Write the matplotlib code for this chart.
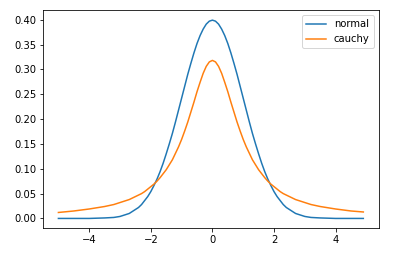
import matplotlib
matplotlib.use("Agg")
import matplotlib.pyplot as plt

# values (denser sampling where the curves bend)
x_vals = [-5.0, -4.5, -4.0, -3.5, -3.2,
          -3.0, -2.9, -2.8, -2.7, -2.6, -2.5, -2.4, -2.3, -2.2, -2.1,
          -2.0, -1.9, -1.8, -1.7, -1.6, -1.5, -1.4, -1.3, -1.2, -1.1,
          -1.0, -0.9, -0.8, -0.7, -0.6, -0.5, -0.4, -0.3, -0.2, -0.1,
          0.0,
          0.1, 0.2, 0.3, 0.4, 0.5, 0.6, 0.7, 0.8, 0.9, 1.0,
          1.1, 1.2, 1.3, 1.4, 1.5, 1.6, 1.7, 1.8, 1.9, 2.0,
          2.1, 2.2, 2.3, 2.4, 2.5, 2.6, 2.7, 2.8, 2.9, 3.0,
          3.2, 3.5, 4.0, 4.5, 4.9]

normal_vals = [0.000, 0.000, 0.000, 0.001, 0.002,
               0.004, 0.006, 0.008, 0.010, 0.014, 0.018, 0.022, 0.028, 0.036, 0.044,
               0.054, 0.066, 0.079, 0.094, 0.111, 0.130, 0.150, 0.171, 0.194, 0.218,
               0.242, 0.266, 0.290, 0.312, 0.333, 0.352, 0.368, 0.381, 0.391, 0.397,
               0.399,
               0.397, 0.391, 0.381, 0.368, 0.352, 0.333, 0.312, 0.290, 0.266, 0.242,
               0.218, 0.194, 0.171, 0.150, 0.130, 0.111, 0.094, 0.079, 0.066, 0.054,
               0.044, 0.036, 0.028, 0.022, 0.018, 0.014, 0.010, 0.008, 0.006, 0.004,
               0.002, 0.001, 0.000, 0.000, 0.000]

cauchy_vals = [0.012, 0.015, 0.019, 0.024, 0.028,
               0.032, 0.034, 0.036, 0.038, 0.041, 0.044, 0.047, 0.050, 0.054, 0.059,
               0.064, 0.069, 0.075, 0.082, 0.090, 0.098, 0.108, 0.118, 0.131, 0.144,
               0.159, 0.176, 0.194, 0.214, 0.234, 0.255, 0.274, 0.292, 0.306, 0.315,
               0.318,
               0.315, 0.306, 0.292, 0.274, 0.255, 0.234, 0.214, 0.194, 0.176, 0.159,
               0.144, 0.131, 0.118, 0.108, 0.098, 0.090, 0.082, 0.075, 0.069, 0.064,
               0.059, 0.054, 0.050, 0.047, 0.044, 0.041, 0.038, 0.036, 0.034, 0.032,
               0.028, 0.024, 0.019, 0.015, 0.013]

fig = plt.figure(figsize=(396 / 72, 256 / 72), dpi=72)
ax = fig.add_axes([0.109, 0.108, 0.847, 0.852])

ax.plot(x_vals, normal_vals, label="normal")
ax.plot(x_vals, cauchy_vals, label="cauchy")
ax.set_yticks([0.0, 0.05, 0.10, 0.15, 0.20, 0.25, 0.30, 0.35, 0.40])
ax.legend(loc="upper right")

fig.savefig("out.png", dpi=72)
